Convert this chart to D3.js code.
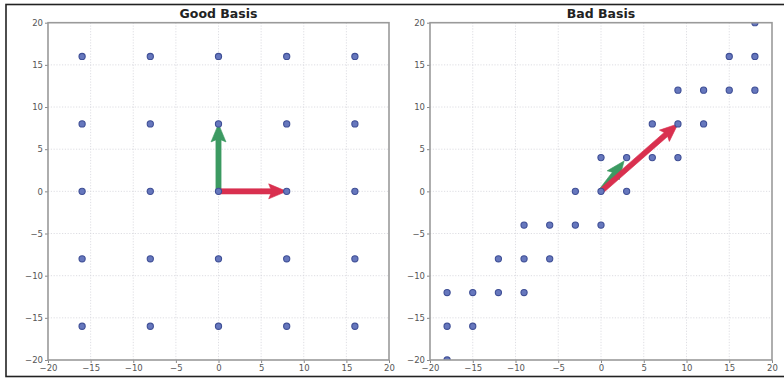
<!DOCTYPE html>
<html>
<head>
<meta charset="utf-8">
<script src="https://cdn.jsdelivr.net/npm/d3@7"></script>
<style>
  html, body { margin: 0; padding: 0; background: #fff; overflow: hidden; }
  svg text { font-family: "DejaVu Sans", sans-serif; }
</style>
</head>
<body>
<div id="chart"></div>
<script>
// lattice points
const goodPoints = [
  [-16, 16], [-8, 16], [0, 16], [8, 16], [16, 16],
  [-16, 8], [-8, 8], [0, 8], [8, 8], [16, 8],
  [-16, 0], [-8, 0], [0, 0], [8, 0], [16, 0],
  [-16, -8], [-8, -8], [0, -8], [8, -8], [16, -8],
  [-16, -16], [-8, -16], [0, -16], [8, -16], [16, -16]
];
const badPoints = [
  [18, 20],
  [15, 16], [18, 16],
  [9, 12], [12, 12], [15, 12], [18, 12],
  [6, 8], [9, 8], [12, 8],
  [0, 4], [3, 4], [6, 4], [9, 4],
  [-3, 0], [0, 0], [3, 0],
  [-9, -4], [-6, -4], [-3, -4], [0, -4],
  [-12, -8], [-9, -8], [-6, -8],
  [-18, -12], [-15, -12], [-12, -12], [-9, -12],
  [-18, -16], [-15, -16],
  [-18, -20]
];
// basis vectors [x, y]
const goodBasis = { red: [8, 0], green: [0, 8] };
const badBasis = { red: [9, 8], green: [2.7, 3.6] };
const ticks = [-20, -15, -10, -5, 0, 5, 10, 15, 20];
const titles = ["Good Basis", "Bad Basis"];

const W = 784, H = 378;
const svg = d3.select("#chart").append("svg")
  .attr("width", W).attr("height", H);

// outer frame (right side runs off the picture)
svg.append("rect")
  .attr("x", 6).attr("y", 4.5)
  .attr("width", 800).attr("height", 372)
  .attr("fill", "none").attr("stroke", "#222").attr("stroke-width", 1.6);

const panels = [
  { left: 48, right: 389, pts: goodPoints, basis: goodBasis, title: titles[0] },
  { left: 430, right: 772, pts: badPoints, basis: badBasis, title: titles[1] }
];
const plotTop = 22.7, plotBottom = 360;
const fmt = d => d < 0 ? "\u2212" + Math.abs(d) : String(d);

const colRed = "#d9304f", colGreen = "#3c9a62";

function arrow(g, x, y, v, col) {
  const x0 = x(0), y0 = y(0), x1 = x(v[0]), y1 = y(v[1]);
  const L = Math.hypot(x1 - x0, y1 - y0);
  const ang = Math.atan2(y1 - y0, x1 - x0) * 180 / Math.PI;
  const hl = 18, hw = 7.5, sw = 2.6, notch = 16;
  const p = [
    [0, -sw], [L - notch, -sw], [L - hl, -hw], [L, 0],
    [L - hl, hw], [L - notch, sw], [0, sw]
  ];
  g.append("path")
    .attr("d", d3.line()(p) + "Z")
    .attr("fill", col)
    .attr("stroke", col).attr("stroke-width", 0.6)
    .attr("stroke-linejoin", "round")
    .attr("transform", `translate(${x0},${y0}) rotate(${ang})`);
}

const defs = svg.append("defs");

panels.forEach((p, i) => {
  const x = d3.scaleLinear().domain([-20, 20]).range([p.left, p.right]);
  const y = d3.scaleLinear().domain([-20, 20]).range([plotBottom, plotTop]);
  const g = svg.append("g");

  defs.append("clipPath").attr("id", "clip" + i)
    .append("rect")
    .attr("x", p.left).attr("y", plotTop)
    .attr("width", p.right - p.left).attr("height", plotBottom - plotTop);

  // grid
  g.selectAll(".gx").data(ticks.slice(1, -1)).enter().append("line")
    .attr("x1", d => x(d)).attr("x2", d => x(d))
    .attr("y1", plotTop).attr("y2", plotBottom)
    .attr("stroke", "#d6d6dc").attr("stroke-width", 0.8)
    .attr("stroke-dasharray", "1.2,1.6");
  g.selectAll(".gy").data(ticks.slice(1, -1)).enter().append("line")
    .attr("y1", d => y(d)).attr("y2", d => y(d))
    .attr("x1", p.left).attr("x2", p.right)
    .attr("stroke", "#d6d6dc").attr("stroke-width", 0.8)
    .attr("stroke-dasharray", "1.2,1.6");

  // axes
  const xa = g.append("g").attr("transform", `translate(0,${plotBottom})`)
    .call(d3.axisBottom(x).tickValues(ticks).tickFormat(fmt).tickSize(3).tickPadding(2));
  const ya = g.append("g").attr("transform", `translate(${p.left},0)`)
    .call(d3.axisLeft(y).tickValues(ticks).tickFormat(fmt).tickSize(3).tickPadding(2));
  [xa, ya].forEach(a => {
    a.select(".domain").remove();
    a.selectAll(".tick line").attr("stroke", "#888");
    a.selectAll("text").attr("fill", "#555").style("font-size", "8.5px");
  });

  const inner = g.append("g").attr("clip-path", `url(#clip${i})`);

  // basis arrows
  arrow(inner, x, y, p.basis.green, colGreen);
  arrow(inner, x, y, p.basis.red, colRed);

  // points
  inner.selectAll(".pt").data(p.pts).enter().append("circle")
    .attr("cx", d => x(d[0])).attr("cy", d => y(d[1]))
    .attr("r", 3.1)
    .attr("fill", "#6677bd").attr("stroke", "#3f4f96").attr("stroke-width", 1.1);

  // frame
  g.append("rect")
    .attr("x", p.left).attr("y", plotTop)
    .attr("width", p.right - p.left).attr("height", plotBottom - plotTop)
    .attr("fill", "none").attr("stroke", "#9a9a9a").attr("stroke-width", 1.6);

  // title
  g.append("text")
    .attr("x", (p.left + p.right) / 2).attr("y", 17.5)
    .attr("text-anchor", "middle")
    .attr("fill", "#222")
    .style("font-size", "12.5px").style("font-weight", "bold")
    .text(p.title);
});
</script>
</body>
</html>
